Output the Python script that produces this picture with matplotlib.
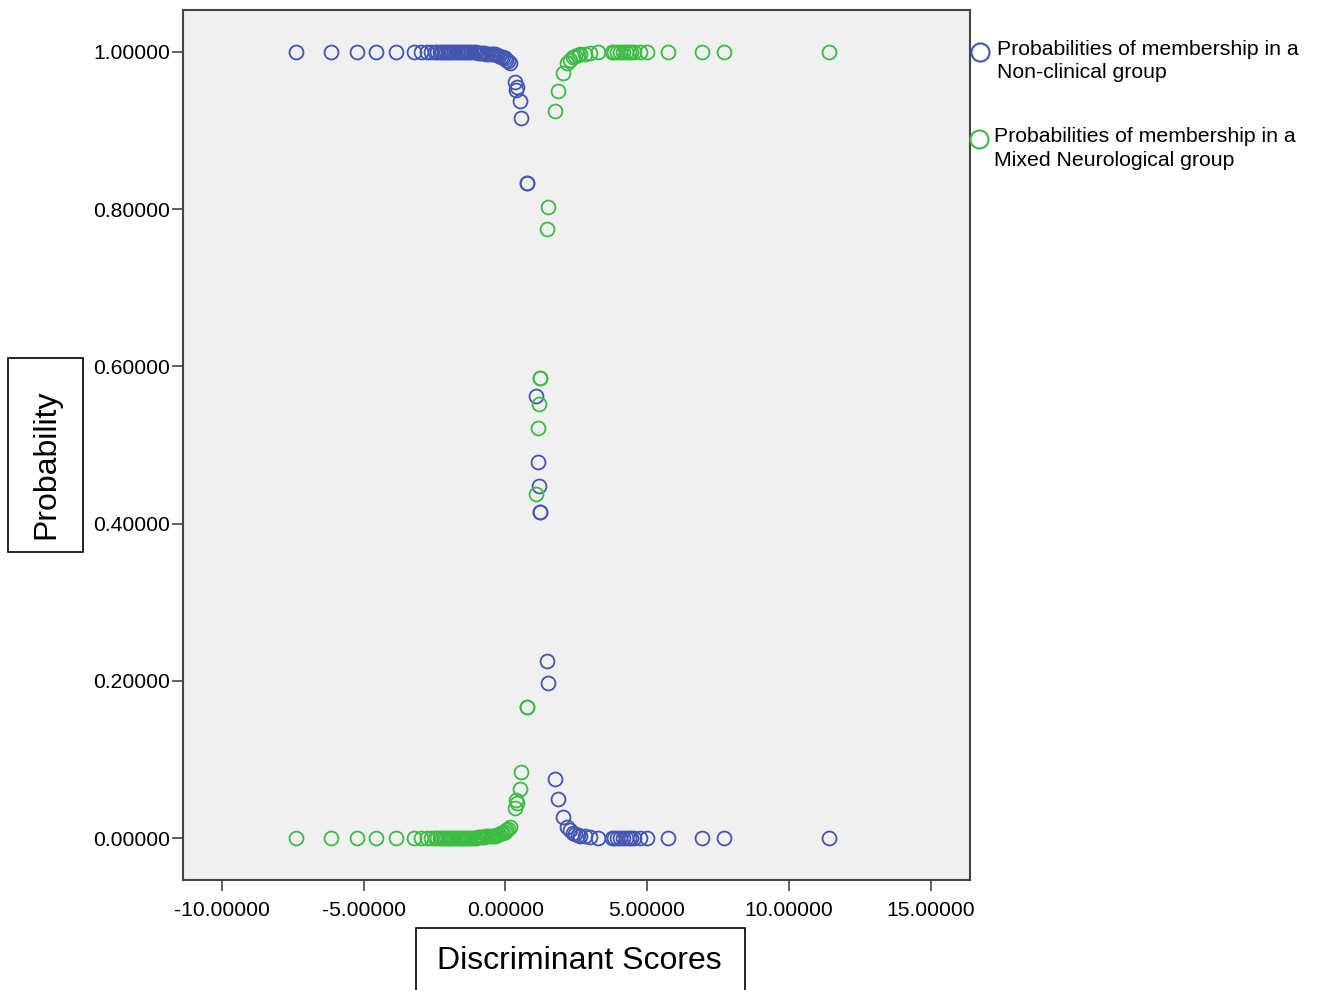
import matplotlib
matplotlib.use("Agg")
import matplotlib.pyplot as plt
from matplotlib.lines import Line2D
from matplotlib.patches import Rectangle
from matplotlib.ticker import FormatStrFormatter

plt.rcParams["font.family"] = ["Liberation Sans", "DejaVu Sans"]
plt.rcParams["axes.unicode_minus"] = False

# Discriminant score of each case
scores = [
    -7.37, -6.14, -5.22, -4.55, -3.84, -3.21, -2.96, -2.75, -2.61,
    -2.47, -2.40, -2.32, -2.25, -2.18, -2.10, -2.02, -1.95, -1.88, -1.80,
    -1.72, -1.65, -1.58, -1.50, -1.42, -1.35, -1.28, -1.20, -1.12, -1.05,
    -0.98, -0.90, -0.82, -0.75, -0.68, -0.60, -0.52, -0.45, -0.38, -0.30,
    -0.22, -0.15, -0.08, -0.02, 0.04, 0.10, 0.15,
    0.35, 0.39, 0.41, 0.50, 0.55,
    0.77, 0.77,
    1.09, 1.16, 1.20, 1.23, 1.23,
    1.47, 1.50,
    1.76, 1.86, 2.02, 2.18, 2.29, 2.38, 2.47, 2.56, 2.65, 2.82, 3.00, 3.27,
    3.76, 3.85, 3.95, 4.05, 4.15, 4.25, 4.35, 4.45, 4.53,
    4.76, 5.00, 5.74, 6.94, 7.70, 11.43,
]

# Probability of membership in the non-clinical group
p_nonclinical = [
    1.000, 1.000, 1.000, 1.000, 1.000, 1.000, 1.000, 1.000, 1.000,
    1.000, 1.000, 1.000, 1.000, 1.000, 1.000, 1.000, 1.000, 1.000, 1.000,
    1.000, 1.000, 1.000, 1.000, 1.000, 1.000, 1.000, 1.000, 1.000, 1.000,
    0.999, 0.999, 0.999, 0.999, 0.998, 0.998, 0.998, 0.997, 0.997, 0.996,
    0.995, 0.994, 0.993, 0.992, 0.990, 0.988, 0.986,
    0.962, 0.952, 0.956, 0.937, 0.916,
    0.833, 0.833,
    0.562, 0.478, 0.448, 0.415, 0.415,
    0.225, 0.197,
    0.075, 0.050, 0.027, 0.014, 0.010, 0.007, 0.005, 0.004, 0.003, 0.002, 0.001, 0.000,
    0.000, 0.000, 0.000, 0.000, 0.000, 0.000, 0.000, 0.000, 0.000,
    0.000, 0.000, 0.000, 0.000, 0.000, 0.000,
]

# Probability of membership in the mixed neurological group
p_neuro = [
    0.000, 0.000, 0.000, 0.000, 0.000, 0.000, 0.000, 0.000, 0.000,
    0.000, 0.000, 0.000, 0.000, 0.000, 0.000, 0.000, 0.000, 0.000, 0.000,
    0.000, 0.000, 0.000, 0.000, 0.000, 0.000, 0.000, 0.000, 0.000, 0.000,
    0.001, 0.001, 0.001, 0.001, 0.002, 0.002, 0.002, 0.003, 0.003, 0.004,
    0.005, 0.006, 0.007, 0.008, 0.010, 0.012, 0.014,
    0.038, 0.048, 0.044, 0.063, 0.084,
    0.167, 0.167,
    0.438, 0.522, 0.552, 0.585, 0.585,
    0.775, 0.803,
    0.925, 0.950, 0.973, 0.986, 0.990, 0.993, 0.995, 0.996, 0.997, 0.998, 0.999, 1.000,
    1.000, 1.000, 1.000, 1.000, 1.000, 1.000, 1.000, 1.000, 1.000,
    1.000, 1.000, 1.000, 1.000, 1.000, 1.000,
]

legend_labels = [
    "Probabilities of membership in a\nNon-clinical group",
    "Probabilities of membership in a\nMixed Neurological group",
]
x_ticks = [-10, -5, 0, 5, 10, 15]
y_ticks = [0.0, 0.2, 0.4, 0.6, 0.8, 1.0]

blue = "#4356b2"
green = "#3cbb45"
frame = "#444444"

fig = plt.figure(figsize=(13.18, 9.9), dpi=100)
ax = fig.add_axes([183 / 1318, 1 - 880 / 990, 787 / 1318, 870 / 990])
ax.set_facecolor("#f0f0f0")

ax.plot(scores, p_nonclinical, "o", mfc="none", mec=blue, ms=10, mew=1.3)
ax.plot(scores, p_neuro, "o", mfc="none", mec=green, ms=10, mew=1.3)

ax.set_xlim(-11.37, 16.39)
ax.set_ylim(-0.0534, 1.0534)
ax.set_xticks(x_ticks)
ax.set_yticks(y_ticks)
ax.xaxis.set_major_formatter(FormatStrFormatter("%.5f"))
ax.yaxis.set_major_formatter(FormatStrFormatter("%.5f"))
ax.tick_params(direction="out", length=8, width=1.2, color=frame,
               labelsize=15.2)
ax.tick_params(axis="x", pad=7)
ax.tick_params(axis="y", pad=1.5)
for s in ax.spines.values():
    s.set_color(frame)
    s.set_linewidth(1.5)

# axis titles in boxes
fig.add_artist(Rectangle((8 / 1318, 1 - 552 / 990), 75 / 1318, 194 / 990,
                         transform=fig.transFigure, fill=False,
                         edgecolor="black", lw=1.2))
fig.text(46 / 1318, 1 - 464 / 990, "Probability", rotation=90,
         fontsize=23, ha="center", va="center")
fig.add_artist(Rectangle((416 / 1318, -0.01), 329 / 1318, 62 / 990 + 0.01,
                         transform=fig.transFigure, fill=False,
                         edgecolor="black", lw=1.2, clip_on=False))
fig.text(579 / 1318, 1 - 961 / 990, "Discriminant Scores",
         fontsize=23, ha="center", va="center")

# legend
for (mx, my), (tx, ty), col, lab in zip(
        [(980, 52), (979, 139)], [(997, 40), (994, 127)],
        [blue, green], legend_labels):
    fig.add_artist(Line2D([mx / 1318], [1 - my / 990], marker="o",
                          mfc="none", mec=col, ms=13, mew=1.5,
                          transform=fig.transFigure))
    fig.text(tx / 1318, 1 - ty / 990, lab, fontsize=15.3, ha="left",
             va="top", linespacing=1.3)

fig.savefig("out.png", dpi=100)
